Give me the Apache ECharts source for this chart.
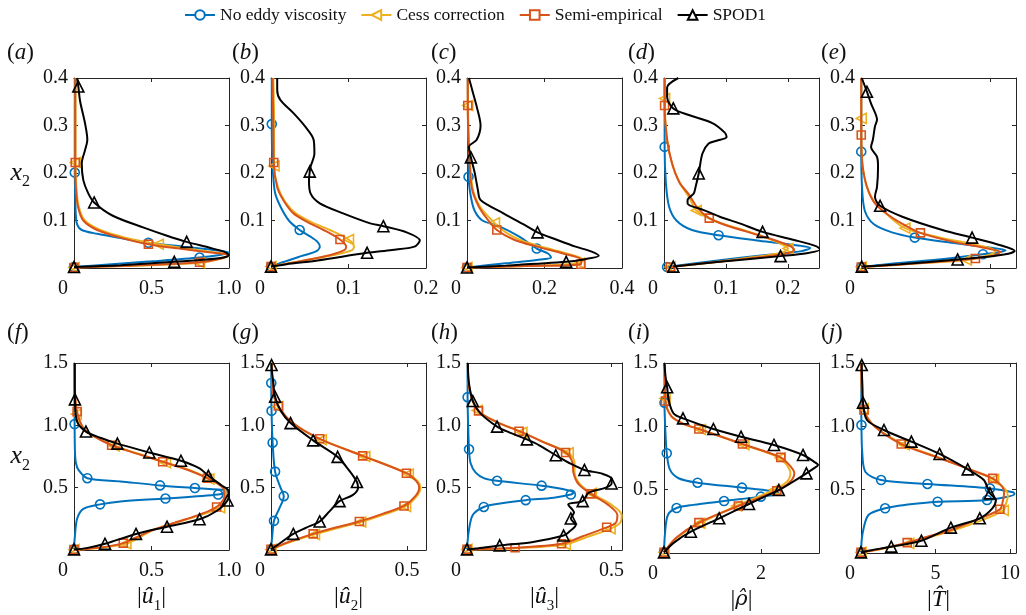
<!DOCTYPE html>
<html>
<head>
<meta charset="utf-8">
<script src="https://cdn.jsdelivr.net/npm/echarts@6/dist/echarts.min.js"></script>
<style>
  html, body { margin: 0; padding: 0; background: #ffffff; }
  #chart { width: 1026px; height: 615px; }
</style>
</head>
<body>
<div id="chart"></div>
<script>
// ---- profile data: each curve is a list of [amplitude, x2] pairs ----
// (a) |u1| near wall
const aNoEddy = [[0.005,0.4],[0.005,0.3],[0.005,0.201],[0.008,0.15],[0.012,0.11],[0.02,0.092],[0.05,0.08],[0.15,0.072],[0.3,0.063],[0.48,0.053],[0.7,0.045],[0.9,0.038],[1.0,0.033],[0.95,0.028],[0.81,0.022],[0.5,0.014],[0.2,0.007],[0.0,0.002]];
const aNoEddyMk = [[0.005,0.201],[0.48,0.053],[0.81,0.022],[0.0,0.002]];
const aCess = [[0.01,0.4],[0.01,0.3],[0.01,0.222],[0.015,0.17],[0.03,0.13],[0.07,0.1],[0.17,0.08],[0.33,0.064],[0.544,0.05],[0.75,0.04],[0.93,0.032],[1.0,0.026],[0.95,0.02],[0.81,0.011],[0.5,0.006],[0.2,0.003],[0.0,0.001]];
const aCessMk = [[0.01,0.222],[0.544,0.05],[0.81,0.011],[0.0,0.001]];
const aSemi = [[0.008,0.4],[0.008,0.3],[0.008,0.222],[0.012,0.17],[0.025,0.13],[0.06,0.1],[0.15,0.08],[0.3,0.064],[0.48,0.05],[0.7,0.04],[0.9,0.032],[1.0,0.027],[0.95,0.02],[0.81,0.012],[0.5,0.007],[0.2,0.003],[0.0,0.001]];
const aSemiMk = [[0.008,0.222],[0.48,0.05],[0.81,0.012],[0.0,0.001]];
const aSpod = [[0.02,0.4],[0.028,0.382],[0.04,0.35],[0.071,0.305],[0.086,0.27],[0.071,0.248],[0.05,0.22],[0.06,0.185],[0.092,0.157],[0.13,0.138],[0.25,0.11],[0.45,0.085],[0.6,0.068],[0.727,0.055],[0.87,0.043],[0.97,0.034],[1.0,0.027],[0.92,0.02],[0.647,0.013],[0.3,0.006],[0.0,0.002]];
const aSpodMk = [[0.028,0.382],[0.13,0.138],[0.727,0.055],[0.647,0.013],[0.0,0.002]];

// (b) |u2| near wall
const bNoEddy = [[0.001,0.4],[0.001,0.303],[0.002,0.22],[0.005,0.16],[0.012,0.13],[0.023,0.1],[0.037,0.08],[0.051,0.066],[0.06,0.055],[0.063,0.045],[0.058,0.035],[0.039,0.025],[0.015,0.012],[0.0,0.003]];
const bNoEddyMk = [[0.001,0.303],[0.037,0.08],[0.0,0.003]];
const bCess = [[0.003,0.4],[0.004,0.3],[0.004,0.215],[0.009,0.17],[0.018,0.14],[0.032,0.115],[0.054,0.095],[0.076,0.08],[0.1,0.06],[0.107,0.045],[0.104,0.037],[0.083,0.028],[0.04,0.015],[0.0,0.003]];
const bCessMk = [[0.004,0.215],[0.1,0.06],[0.0,0.003]];
const bSemi = [[0.002,0.4],[0.003,0.3],[0.0035,0.222],[0.008,0.17],[0.017,0.14],[0.029,0.115],[0.049,0.095],[0.068,0.08],[0.089,0.06],[0.097,0.045],[0.095,0.038],[0.078,0.028],[0.04,0.015],[0.0,0.003]];
const bSemiMk = [[0.0035,0.222],[0.089,0.06],[0.0,0.003]];
const bSpod = [[0.008,0.4],[0.008,0.375],[0.012,0.354],[0.029,0.326],[0.044,0.298],[0.055,0.27],[0.056,0.241],[0.051,0.213],[0.05,0.203],[0.049,0.185],[0.051,0.157],[0.063,0.136],[0.093,0.115],[0.128,0.094],[0.145,0.088],[0.175,0.075],[0.192,0.058],[0.185,0.045],[0.156,0.038],[0.124,0.032],[0.06,0.016],[0.02,0.008],[0.0,0.003]];
const bSpodMk = [[0.05,0.203],[0.145,0.088],[0.124,0.032],[0.0,0.003]];

// (c) |u3| near wall
const cNoEddy = [[0.002,0.4],[0.003,0.3],[0.004,0.192],[0.01,0.15],[0.02,0.12],[0.04,0.1],[0.085,0.087],[0.135,0.066],[0.18,0.041],[0.21,0.03],[0.217,0.022],[0.18,0.017],[0.1,0.01],[0.0,0.001]];
const cNoEddyMk = [[0.004,0.192],[0.18,0.041],[0.0,0.001]];
const cCess = [[0.002,0.4],[0.002,0.342],[0.006,0.25],[0.014,0.17],[0.033,0.13],[0.071,0.095],[0.1,0.075],[0.14,0.058],[0.2,0.043],[0.26,0.03],[0.3,0.017],[0.29,0.01],[0.15,0.004],[0.0,0.001]];
const cCessMk = [[0.002,0.342],[0.071,0.095],[0.29,0.01],[0.0,0.001]];
const cSemi = [[0.002,0.4],[0.002,0.342],[0.005,0.25],[0.012,0.17],[0.03,0.13],[0.055,0.1],[0.077,0.08],[0.12,0.06],[0.18,0.045],[0.25,0.03],[0.295,0.017],[0.294,0.008],[0.15,0.004],[0.0,0.001]];
const cSemiMk = [[0.002,0.342],[0.077,0.08],[0.294,0.008],[0.0,0.001]];
const cSpod = [[0.005,0.4],[0.015,0.37],[0.025,0.34],[0.035,0.3],[0.025,0.27],[0.005,0.255],[0.01,0.233],[0.02,0.2],[0.028,0.165],[0.035,0.143],[0.094,0.115],[0.156,0.087],[0.182,0.075],[0.23,0.06],[0.28,0.045],[0.32,0.035],[0.34,0.026],[0.3,0.018],[0.256,0.013],[0.1,0.005],[0.0,0.001]];
const cSpodMk = [[0.01,0.233],[0.182,0.075],[0.256,0.013],[0.0,0.001]];

// (d) |rho| near wall
const dNoEddy = [[0.001,0.4],[0.001,0.255],[0.003,0.18],[0.008,0.13],[0.02,0.1],[0.045,0.08],[0.088,0.069],[0.15,0.058],[0.2,0.05],[0.236,0.042],[0.22,0.035],[0.16,0.027],[0.08,0.015],[0.005,0.002]];
const dNoEddyMk = [[0.001,0.255],[0.088,0.069],[0.005,0.002]];
const dCess = [[0.001,0.4],[0.001,0.357],[0.005,0.27],[0.013,0.22],[0.025,0.18],[0.04,0.15],[0.052,0.121],[0.08,0.1],[0.12,0.083],[0.16,0.066],[0.19,0.05],[0.2,0.041],[0.19,0.032],[0.145,0.023],[0.08,0.012],[0.01,0.002]];
const dCessMk = [[0.001,0.357],[0.052,0.121],[0.2,0.041],[0.01,0.002]];
const dSemi = [[0.001,0.4],[0.001,0.342],[0.005,0.27],[0.013,0.22],[0.025,0.18],[0.04,0.155],[0.055,0.125],[0.073,0.105],[0.1,0.09],[0.14,0.074],[0.18,0.058],[0.205,0.045],[0.21,0.038],[0.195,0.03],[0.15,0.022],[0.08,0.012],[0.01,0.002]];
const dSemiMk = [[0.001,0.342],[0.073,0.105],[0.01,0.002]];
const dSpod = [[0.023,0.4],[0.005,0.38],[0.005,0.36],[0.015,0.336],[0.04,0.322],[0.078,0.305],[0.098,0.285],[0.101,0.276],[0.085,0.268],[0.072,0.262],[0.062,0.241],[0.056,0.199],[0.051,0.171],[0.048,0.157],[0.038,0.143],[0.038,0.136],[0.064,0.122],[0.09,0.108],[0.122,0.094],[0.159,0.076],[0.21,0.059],[0.245,0.046],[0.252,0.039],[0.23,0.031],[0.188,0.025],[0.09,0.013],[0.015,0.003]];
const dSpodMk = [[0.015,0.336],[0.056,0.199],[0.159,0.076],[0.188,0.025],[0.015,0.003]];

// (e) |T| near wall
const eNoEddy = [[0.01,0.4],[0.01,0.245],[0.04,0.17],[0.15,0.12],[0.5,0.092],[1.2,0.075],[2.08,0.064],[3.5,0.053],[4.8,0.044],[5.6,0.037],[5.2,0.032],[4.72,0.029],[3.0,0.018],[1.0,0.008],[0.01,0.002]];
const eNoEddyMk = [[0.01,0.245],[2.08,0.064],[4.72,0.029],[0.01,0.002]];
const eCess = [[0.01,0.4],[0.01,0.315],[0.04,0.23],[0.2,0.175],[0.5,0.14],[1.0,0.113],[1.7,0.084],[3.0,0.065],[4.5,0.048],[5.2,0.036],[5.0,0.028],[4.08,0.017],[2.0,0.009],[0.01,0.002]];
const eCessMk = [[0.01,0.315],[1.7,0.084],[4.08,0.017],[0.01,0.002]];
const eSemi = [[0.01,0.4],[0.01,0.28],[0.05,0.22],[0.23,0.171],[0.54,0.136],[1.1,0.11],[1.7,0.09],[2.3,0.074],[3.5,0.056],[4.8,0.042],[5.4,0.034],[5.1,0.026],[4.43,0.02],[2.5,0.011],[0.01,0.002]];
const eSemiMk = [[0.01,0.28],[2.3,0.074],[4.43,0.02],[0.01,0.002]];
const eSpod = [[0.03,0.4],[0.23,0.371],[0.39,0.346],[0.62,0.312],[0.54,0.298],[0.46,0.27],[0.39,0.255],[0.62,0.234],[0.66,0.213],[0.62,0.171],[0.54,0.15],[0.74,0.131],[1.6,0.108],[3.15,0.08],[4.3,0.064],[5.4,0.048],[5.95,0.036],[5.7,0.03],[4.8,0.023],[3.74,0.018],[1.5,0.008],[0.03,0.003]];
const eSpodMk = [[0.23,0.371],[0.74,0.131],[4.3,0.064],[3.74,0.018],[0.03,0.003]];

// (f) |u1| across the layer
const fNoEddy = [[0.003,1.5],[0.003,1.2],[0.004,1.01],[0.006,0.8],[0.012,0.7],[0.03,0.64],[0.086,0.576],[0.3,0.55],[0.555,0.518],[0.78,0.497],[0.98,0.48],[1.0,0.47],[0.93,0.445],[0.59,0.413],[0.3,0.39],[0.168,0.366],[0.06,0.33],[0.02,0.25],[0.005,0.1],[0.0,0.005]];
const fNoEddyMk = [[0.004,1.01],[0.086,0.576],[0.555,0.518],[0.78,0.497],[0.93,0.445],[0.59,0.413],[0.168,0.366],[0.0,0.005]];
const fCess = [[0.005,1.5],[0.006,1.3],[0.015,1.09],[0.06,0.97],[0.13,0.91],[0.26,0.835],[0.42,0.77],[0.59,0.7],[0.76,0.635],[0.87,0.57],[0.97,0.5],[0.98,0.43],[0.94,0.34],[0.75,0.255],[0.52,0.165],[0.42,0.1],[0.335,0.05],[0.2,0.022],[0.08,0.007],[0.0,0.003]];
const fCessMk = [[0.015,1.09],[0.26,0.835],[0.59,0.7],[0.87,0.57],[0.94,0.34],[0.335,0.05],[0.0,0.003]];
const fSemi = [[0.005,1.5],[0.006,1.3],[0.02,1.11],[0.06,0.98],[0.12,0.92],[0.243,0.84],[0.4,0.775],[0.572,0.708],[0.74,0.64],[0.86,0.576],[0.96,0.5],[0.97,0.43],[0.92,0.345],[0.8,0.28],[0.65,0.22],[0.5,0.155],[0.4,0.1],[0.318,0.055],[0.2,0.025],[0.08,0.008],[0.0,0.003]];
const fSemiMk = [[0.02,1.11],[0.243,0.84],[0.572,0.708],[0.86,0.576],[0.92,0.345],[0.318,0.055],[0.0,0.003]];
const fSpod = [[0.005,1.5],[0.005,1.35],[0.006,1.208],[0.02,1.03],[0.077,0.95],[0.17,0.9],[0.28,0.853],[0.486,0.782],[0.69,0.716],[0.81,0.655],[0.867,0.595],[0.95,0.52],[1.0,0.47],[0.99,0.397],[0.92,0.313],[0.81,0.247],[0.6,0.187],[0.4,0.129],[0.2,0.05],[0.08,0.015],[0.0,0.005]];
const fSpodMk = [[0.006,1.208],[0.077,0.95],[0.28,0.853],[0.486,0.782],[0.69,0.716],[0.867,0.595],[0.99,0.397],[0.81,0.247],[0.6,0.187],[0.4,0.129],[0.2,0.05],[0.0,0.005]];

// (g) |u2| across the layer
const gNoEddy = [[0.001,1.5],[0.001,1.34],[0.002,1.116],[0.006,0.861],[0.015,0.629],[0.035,0.5],[0.047,0.432],[0.03,0.33],[0.011,0.234],[0.004,0.1],[0.0,0.005]];
const gNoEddyMk = [[0.001,1.34],[0.002,1.116],[0.006,0.861],[0.015,0.629],[0.047,0.432],[0.011,0.234],[0.0,0.005]];
const gCess = [[0.003,1.5],[0.005,1.3],[0.025,1.15],[0.08,1.015],[0.185,0.885],[0.345,0.75],[0.505,0.61],[0.54,0.55],[0.55,0.5],[0.535,0.43],[0.495,0.35],[0.415,0.285],[0.33,0.225],[0.225,0.165],[0.16,0.125],[0.06,0.055],[0.0,0.005]];
const gCessMk = [[0.025,1.15],[0.185,0.885],[0.345,0.75],[0.505,0.61],[0.495,0.35],[0.33,0.225],[0.16,0.125],[0.0,0.005]];
const gSemi = [[0.003,1.5],[0.005,1.3],[0.027,1.155],[0.08,1.02],[0.179,0.892],[0.337,0.755],[0.498,0.616],[0.535,0.55],[0.545,0.5],[0.53,0.43],[0.489,0.353],[0.41,0.29],[0.325,0.229],[0.22,0.17],[0.155,0.129],[0.06,0.06],[0.0,0.005]];
const gSemiMk = [[0.027,1.155],[0.179,0.892],[0.337,0.755],[0.498,0.616],[0.489,0.353],[0.325,0.229],[0.155,0.129],[0.0,0.005]];
const gSpod = [[0.002,1.5],[0.002,1.484],[0.008,1.35],[0.015,1.229],[0.035,1.12],[0.072,1.018],[0.155,0.879],[0.245,0.747],[0.29,0.63],[0.316,0.545],[0.32,0.5],[0.3,0.44],[0.252,0.392],[0.215,0.31],[0.179,0.229],[0.13,0.18],[0.082,0.129],[0.03,0.05],[0.0,0.005]];
const gSpodMk = [[0.002,1.484],[0.015,1.229],[0.072,1.018],[0.155,0.879],[0.245,0.747],[0.316,0.545],[0.252,0.392],[0.179,0.229],[0.082,0.129],[0.0,0.005]];

// (h) |u3| across the layer
const hNoEddy = [[0.002,1.5],[0.002,1.226],[0.004,1.0],[0.007,0.808],[0.012,0.7],[0.03,0.62],[0.06,0.575],[0.104,0.555],[0.258,0.516],[0.33,0.49],[0.369,0.46],[0.359,0.445],[0.3,0.42],[0.203,0.4],[0.12,0.375],[0.058,0.345],[0.02,0.28],[0.006,0.15],[0.0,0.005]];
const hNoEddyMk = [[0.002,1.226],[0.007,0.808],[0.104,0.555],[0.258,0.516],[0.359,0.445],[0.203,0.4],[0.058,0.345],[0.0,0.005]];
const hCess = [[0.003,1.5],[0.008,1.3],[0.035,1.12],[0.1,1.03],[0.19,0.945],[0.27,0.86],[0.35,0.78],[0.372,0.7],[0.372,0.62],[0.39,0.53],[0.43,0.455],[0.495,0.37],[0.535,0.28],[0.53,0.22],[0.495,0.17],[0.41,0.1],[0.34,0.045],[0.17,0.015],[0.0,0.005]];
const hCessMk = [[0.035,1.12],[0.19,0.945],[0.35,0.78],[0.43,0.455],[0.495,0.17],[0.34,0.045],[0.0,0.005]];
const hSemi = [[0.003,1.5],[0.008,1.3],[0.04,1.116],[0.1,1.03],[0.18,0.953],[0.26,0.87],[0.341,0.782],[0.365,0.7],[0.368,0.62],[0.385,0.53],[0.428,0.45],[0.486,0.366],[0.52,0.28],[0.515,0.22],[0.483,0.182],[0.4,0.11],[0.327,0.05],[0.166,0.018],[0.0,0.005]];
const hSemiMk = [[0.04,1.116],[0.18,0.953],[0.341,0.782],[0.428,0.45],[0.483,0.182],[0.327,0.05],[0.166,0.018],[0.0,0.005]];
const hSpod = [[0.003,1.5],[0.006,1.35],[0.02,1.195],[0.045,1.1],[0.104,0.99],[0.15,0.94],[0.207,0.887],[0.25,0.84],[0.307,0.76],[0.36,0.69],[0.406,0.642],[0.47,0.61],[0.5,0.57],[0.5,0.534],[0.48,0.5],[0.42,0.458],[0.4,0.392],[0.35,0.365],[0.37,0.3],[0.359,0.253],[0.376,0.2],[0.355,0.15],[0.334,0.116],[0.224,0.063],[0.113,0.037],[0.03,0.012],[0.0,0.005]];
const hSpodMk = [[0.02,1.195],[0.104,0.99],[0.207,0.887],[0.307,0.76],[0.406,0.642],[0.5,0.534],[0.4,0.392],[0.359,0.253],[0.334,0.116],[0.113,0.037],[0.0,0.005]];

// (i) |rho| across the layer
const iNoEddy = [[0.01,1.5],[0.01,1.187],[0.03,0.95],[0.057,0.787],[0.12,0.66],[0.3,0.59],[0.694,0.555],[1.61,0.516],[2.2,0.49],[2.4,0.47],[2.0,0.445],[1.24,0.41],[0.6,0.38],[0.26,0.355],[0.08,0.3],[0.02,0.15],[0.0,0.005]];
const iNoEddyMk = [[0.01,1.187],[0.057,0.787],[0.694,0.555],[1.61,0.516],[2.0,0.445],[1.24,0.41],[0.26,0.355],[0.0,0.005]];
const iCess = [[0.01,1.5],[0.02,1.35],[0.02,1.22],[0.15,1.08],[0.4,1.02],[0.75,0.975],[1.65,0.855],[2.4,0.75],[2.56,0.68],[2.61,0.63],[2.53,0.56],[2.28,0.5],[1.5,0.372],[0.74,0.235],[0.25,0.115],[0.0,0.005]];
const iCessMk = [[0.02,1.22],[0.75,0.975],[1.65,0.855],[2.4,0.75],[2.28,0.5],[1.5,0.372],[0.74,0.235],[0.0,0.005]];
const iSemi = [[0.01,1.5],[0.02,1.35],[0.03,1.2],[0.15,1.08],[0.4,1.02],[0.72,0.979],[1.62,0.86],[2.41,0.755],[2.62,0.68],[2.69,0.63],[2.6,0.56],[2.33,0.492],[1.535,0.371],[0.72,0.24],[0.25,0.12],[0.0,0.005]];
const iSemiMk = [[0.03,1.2],[0.72,0.979],[1.62,0.86],[2.41,0.755],[2.33,0.492],[1.535,0.371],[0.72,0.24],[0.0,0.005]];
const iSpod = [[0.01,1.5],[0.03,1.4],[0.065,1.308],[0.1,1.2],[0.2,1.1],[0.392,1.063],[1.02,0.979],[1.59,0.918],[2.27,0.853],[2.87,0.774],[3.1,0.72],[3.18,0.695],[3.1,0.67],[2.94,0.629],[2.65,0.56],[2.37,0.497],[2.05,0.44],[1.755,0.387],[1.14,0.274],[0.555,0.168],[0.2,0.08],[0.0,0.005]];
const iSpodMk = [[0.065,1.308],[0.392,1.063],[1.02,0.979],[1.59,0.918],[2.27,0.853],[2.87,0.774],[2.94,0.629],[2.37,0.497],[1.755,0.387],[1.14,0.274],[0.555,0.168],[0.0,0.005]];

// (j) |T| across the layer
const jNoEddy = [[0.02,1.5],[0.02,1.2],[0.03,1.01],[0.08,0.8],[0.3,0.64],[1.35,0.576],[4.46,0.545],[8.65,0.51],[10.2,0.48],[10.3,0.465],[8.46,0.418],[5.14,0.405],[3.0,0.38],[1.62,0.353],[0.5,0.3],[0.1,0.15],[0.0,0.005]];
const jNoEddyMk = [[0.03,1.01],[1.35,0.576],[4.46,0.545],[8.65,0.51],[8.46,0.418],[5.14,0.405],[1.62,0.353],[0.0,0.005]];
const jCess = [[0.02,1.5],[0.05,1.3],[0.15,1.14],[0.9,1.0],[2.9,0.855],[5.2,0.755],[7.4,0.655],[8.9,0.58],[9.7,0.5],[9.85,0.45],[9.7,0.38],[9.55,0.335],[7.9,0.25],[6.1,0.175],[4.3,0.115],[3.2,0.076],[1.2,0.028],[0.0,0.005]];
const jCessMk = [[0.15,1.14],[2.9,0.855],[8.9,0.58],[9.55,0.335],[3.2,0.076],[0.0,0.005]];
const jSemi = [[0.02,1.5],[0.05,1.3],[0.2,1.129],[0.9,1.0],[2.7,0.86],[5.0,0.76],[7.3,0.66],[8.84,0.589],[9.5,0.52],[9.6,0.47],[9.5,0.4],[9.32,0.345],[7.7,0.26],[6.0,0.18],[4.2,0.12],[3.1,0.082],[1.2,0.03],[0.0,0.005]];
const jSemiMk = [[0.2,1.129],[2.7,0.86],[8.84,0.589],[9.32,0.345],[3.1,0.082],[0.0,0.005]];
const jSpod = [[0.05,1.5],[0.05,1.484],[0.1,1.3],[0.135,1.187],[0.4,1.05],[1.54,0.971],[3.38,0.879],[5.27,0.782],[7.16,0.66],[8.24,0.576],[8.65,0.471],[9.05,0.418],[8.8,0.35],[7.97,0.274],[6.03,0.2],[4.05,0.097],[2.03,0.05],[0.6,0.02],[0.0,0.005]];
const jSpodMk = [[0.05,1.484],[0.135,1.187],[1.54,0.971],[3.38,0.879],[5.27,0.782],[7.16,0.66],[8.65,0.471],[7.97,0.274],[6.03,0.2],[4.05,0.097],[2.03,0.05],[0.0,0.005]];

// ---- axis ranges and tick labels per panel ----
const panelLetters = ['a', 'b', 'c', 'd', 'e', 'f', 'g', 'h', 'i', 'j'];
const xMax = [1, 0.2, 0.4, 0.25, 6, 1, 0.57, 0.536, 3.2, 10.4];
const xStep = [0.5, 0.1, 0.2, 0.1, 5, 0.5, 0.5, 0.5, 2, 5];
const xTickLabels = [
  ['0', '0.5', '1.0'], ['0', '0.1', '0.2'], ['0', '0.2', '0.4'], ['0', '0.1', '0.2'], ['0', '5'],
  ['0', '0.5', '1.0'], ['0', '0.5'], ['0', '0.5'], ['0', '2'], ['0', '5', '10']
];
const yMaxTop = 0.4, yStepTop = 0.1;
const yMaxBottom = 1.5, yStepBottom = 0.5;
const yTickLabelsTop = ['0.1', '0.2', '0.3', '0.4'];
const yTickLabelsBottom = ['0.5', '1.0', '1.5'];
const xAxisTitles = [
  '{b||}{i|\u00fb}{s|1}{b||}',
  '{b||}{i|\u00fb}{s|2}{b||}',
  '{b||}{i|\u00fb}{s|3}{b||}',
  '{b||}{g|\u03c1\u0302}{b||}',
  '{b||}{i|T\u0302}{b||}'
];
const yAxisTitle = '{i|x}{s|2}';

const seriesNames = ['No eddy viscosity', 'Cess correction', 'Semi-empirical', 'SPOD1'];

const panelCurves = [
  [aNoEddy, aCess, aSemi, aSpod], [bNoEddy, bCess, bSemi, bSpod], [cNoEddy, cCess, cSemi, cSpod],
  [dNoEddy, dCess, dSemi, dSpod], [eNoEddy, eCess, eSemi, eSpod], [fNoEddy, fCess, fSemi, fSpod],
  [gNoEddy, gCess, gSemi, gSpod], [hNoEddy, hCess, hSemi, hSpod], [iNoEddy, iCess, iSemi, iSpod],
  [jNoEddy, jCess, jSemi, jSpod]
];
const panelMarks = [
  [aNoEddyMk, aCessMk, aSemiMk, aSpodMk], [bNoEddyMk, bCessMk, bSemiMk, bSpodMk], [cNoEddyMk, cCessMk, cSemiMk, cSpodMk],
  [dNoEddyMk, dCessMk, dSemiMk, dSpodMk], [eNoEddyMk, eCessMk, eSemiMk, eSpodMk], [fNoEddyMk, fCessMk, fSemiMk, fSpodMk],
  [gNoEddyMk, gCessMk, gSemiMk, gSpodMk], [hNoEddyMk, hCessMk, hSemiMk, hSpodMk], [iNoEddyMk, iCessMk, iSemiMk, iSpodMk],
  [jNoEddyMk, jCessMk, jSemiMk, jSpodMk]
];

// ---- styling ----
const FONT = '"Liberation Serif", "Times New Roman", Times, serif';
const GREEK_FONT = '"DejaVu Serif", "Liberation Serif", serif';
const AXIS_COLOR = '#262626';
const TEXT_COLOR = '#111111';
const seriesColors = ['#0072BD', '#EDB120', '#D95319', '#000000'];
const legendSymbols = ['emptyCircle', 'emptyTriangle', 'emptyRect', 'emptyTriangle'];
const markSymbols = ['circle', 'triangle', 'rect', 'triangle'];
const markRotate = [0, 90, 0, 0];
const markSize = [9, 10, 8, 11];

const gridLefts = [74, 271, 467, 664, 861];
const gridTops = [78, 363];
const GRID_W = 155, GRID_H = 190;
const letterLefts = [7, 232, 431, 628, 821];
const letterTops = [41, 321];

function pickLabel(labels, withZeroPad) {
  return function (v) {
    const hit = labels.find(function (l) { return Math.abs(parseFloat(l) - v) < 1e-6; });
    if (hit === undefined) return '';
    if (withZeroPad && parseFloat(hit) === 0) return '{z|' + hit + '}';
    return hit;
  };
}

const labelText = { fontFamily: FONT, fontSize: 20, fontWeight: 'normal', color: TEXT_COLOR };
const axisLineStyle = { color: AXIS_COLOR, width: 1 };

const grid = [], xAxis = [], yAxis = [], series = [], title = [];

for (let p = 0; p < 10; p++) {
  const row = p < 5 ? 0 : 1;
  const col = p % 5;
  grid.push({ left: gridLefts[col], top: gridTops[row], width: GRID_W, height: GRID_H, containLabel: false });

  const bottomX = {
    gridIndex: p, type: 'value', position: 'bottom', min: 0, max: xMax[p], interval: xStep[p],
    axisLine: { show: true, onZero: false, lineStyle: axisLineStyle },
    axisTick: { show: true, inside: true, length: 4, lineStyle: axisLineStyle },
    splitLine: { show: false },
    axisLabel: Object.assign({
      show: true, margin: 11, showMinLabel: true, showMaxLabel: true,
      formatter: pickLabel(xTickLabels[p], true),
      rich: { z: Object.assign({ padding: [0, 22, 0, 0] }, labelText) }
    }, labelText)
  };
  if (row === 1) {
    bottomX.name = xAxisTitles[col];
    bottomX.nameLocation = 'middle';
    bottomX.nameGap = 30;
    bottomX.nameTextStyle = {
      rich: {
        b: { fontFamily: FONT, fontSize: 24, color: TEXT_COLOR, lineHeight: 34 },
        i: { fontFamily: FONT, fontSize: 24, fontStyle: 'italic', color: TEXT_COLOR, lineHeight: 34 },
        g: { fontFamily: GREEK_FONT, fontSize: 21, fontStyle: 'italic', color: TEXT_COLOR, lineHeight: 34 },
        s: { fontFamily: FONT, fontSize: 15, color: TEXT_COLOR, verticalAlign: 'bottom', lineHeight: 16 }
      }
    };
  }
  xAxis.push(bottomX);
  xAxis.push({
    gridIndex: p, type: 'value', position: 'top', min: 0, max: xMax[p], interval: xStep[p],
    axisLine: { show: true, onZero: false, lineStyle: axisLineStyle },
    axisTick: { show: true, inside: true, length: 4, lineStyle: axisLineStyle },
    splitLine: { show: false }, axisLabel: { show: false }
  });

  const yMax = row === 0 ? yMaxTop : yMaxBottom;
  const yStep = row === 0 ? yStepTop : yStepBottom;
  const leftY = {
    gridIndex: p, type: 'value', position: 'left', min: 0, max: yMax, interval: yStep,
    axisLine: { show: true, onZero: false, lineStyle: axisLineStyle },
    axisTick: { show: true, inside: true, length: 4, lineStyle: axisLineStyle },
    splitLine: { show: false },
    axisLabel: Object.assign({
      show: true, margin: 6, showMinLabel: true, showMaxLabel: true,
      formatter: pickLabel(row === 0 ? yTickLabelsTop : yTickLabelsBottom, false)
    }, labelText)
  };
  if (col === 0) {
    leftY.name = yAxisTitle;
    leftY.nameLocation = 'middle';
    leftY.nameRotate = 0;
    leftY.nameGap = 44;
    leftY.nameTextStyle = {
      rich: {
        i: { fontFamily: FONT, fontSize: 26, fontStyle: 'italic', color: TEXT_COLOR, lineHeight: 34 },
        s: { fontFamily: FONT, fontSize: 16, color: TEXT_COLOR, verticalAlign: 'bottom', lineHeight: 17 }
      }
    };
  }
  yAxis.push(leftY);
  yAxis.push({
    gridIndex: p, type: 'value', position: 'right', min: 0, max: yMax, interval: yStep,
    axisLine: { show: true, onZero: false, lineStyle: axisLineStyle },
    axisTick: { show: true, inside: true, length: 4, lineStyle: axisLineStyle },
    splitLine: { show: false }, axisLabel: { show: false }
  });

  title.push({
    text: '{p|(}{i|' + panelLetters[p] + '}{p|)}',
    left: letterLefts[col], top: letterTops[row], padding: 0,
    textStyle: {
      fontWeight: 'normal',
      rich: {
        p: { fontFamily: FONT, fontSize: 23, fontWeight: 'normal', color: TEXT_COLOR },
        i: { fontFamily: FONT, fontSize: 23, fontWeight: 'normal', fontStyle: 'italic', color: TEXT_COLOR }
      }
    }
  });

  for (let s = 0; s < 4; s++) {
    const color = seriesColors[s];
    series.push({
      type: 'line', name: seriesNames[s], xAxisIndex: 2 * p, yAxisIndex: 2 * p,
      data: panelCurves[p][s], smooth: 0.3, showSymbol: false,
      symbol: legendSymbols[s], symbolRotate: markRotate[s], symbolSize: markSize[s],
      itemStyle: { color: color },
      lineStyle: { color: color, width: 2 },
      emphasis: { disabled: true }, silent: true, clip: true, z: 2 + s
    });
    series.push({
      type: 'scatter', name: seriesNames[s], xAxisIndex: 2 * p, yAxisIndex: 2 * p,
      data: panelMarks[p][s], symbol: markSymbols[s], symbolRotate: markRotate[s], symbolSize: markSize[s],
      itemStyle: { color: 'rgba(0,0,0,0)', borderColor: color, borderWidth: 1.6, opacity: 1 },
      emphasis: { disabled: true }, silent: true, clip: false, z: 2 + s
    });
  }
}

const chart = echarts.init(document.getElementById('chart'), null, { renderer: 'canvas' });
chart.setOption({
  backgroundColor: '#ffffff',
  animation: false,
  title: title,
  legend: {
    data: seriesNames, top: 1, left: 179, itemWidth: 30, itemHeight: 12, itemGap: 14,
    textStyle: { fontFamily: FONT, fontSize: 17.5, color: TEXT_COLOR }
  },
  grid: grid, xAxis: xAxis, yAxis: yAxis, series: series
});
</script>
</body>
</html>
